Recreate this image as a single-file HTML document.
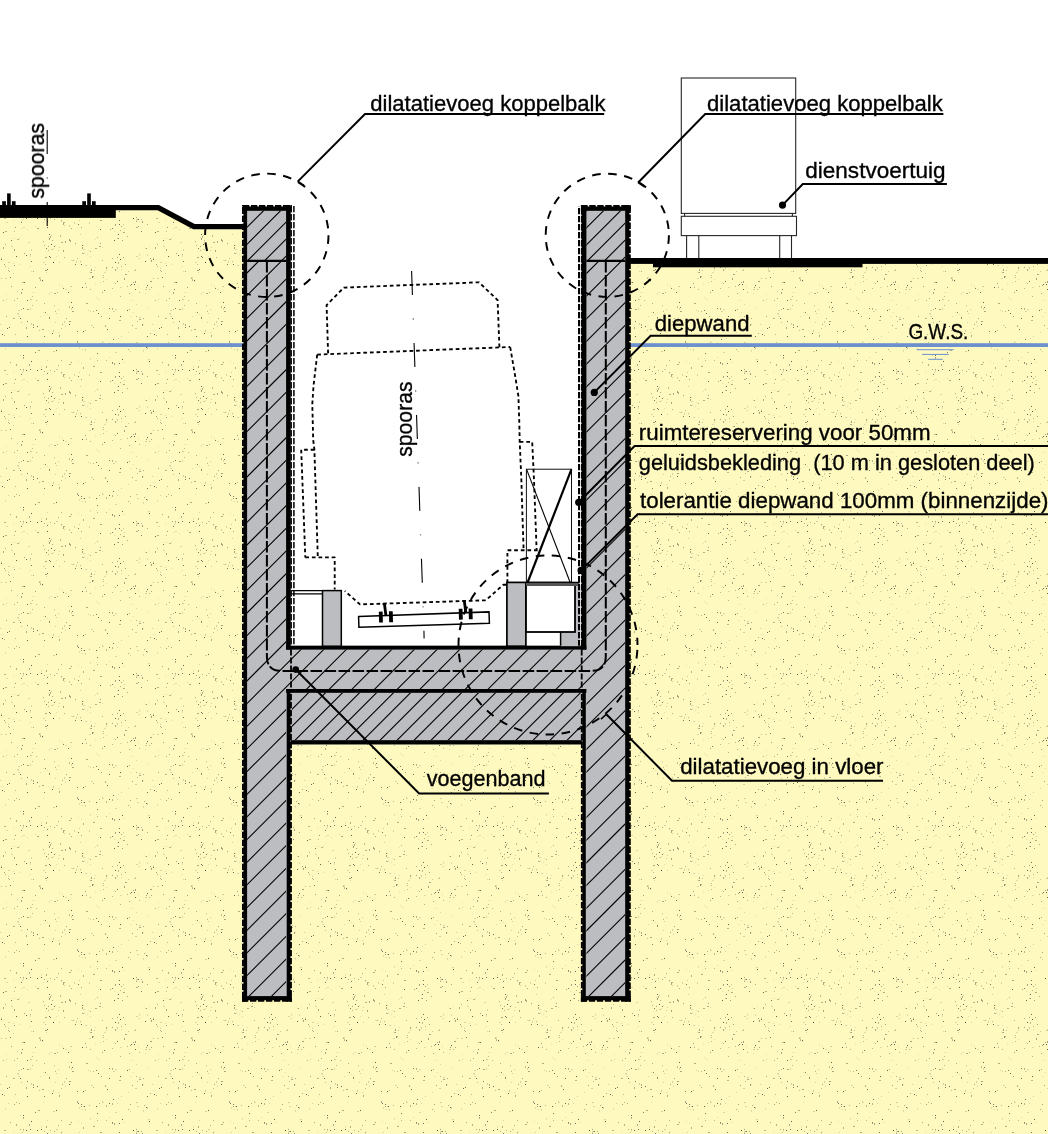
<!DOCTYPE html>
<html><head><meta charset="utf-8"><title>dwarsdoorsnede</title>
<style>
html,body{margin:0;padding:0;background:#fff;}
body{width:1048px;height:1134px;overflow:hidden;}
svg{display:block;}
text{font-family:"Liberation Sans", sans-serif;font-size:22.4px;fill:#000;stroke:#000;stroke-width:0.35px;}
</style></head><body>
<svg width="1048" height="1134" viewBox="0 0 1048 1134">
<defs>
<pattern id="sand" width="152" height="152" patternUnits="userSpaceOnUse">
<rect width="152" height="152" fill="#fef9bf"/>
<rect x="97" y="85" width="1" height="1" fill="#33332a" fill-opacity="0.32"/><rect x="95" y="87" width="1" height="1" fill="#33332a" fill-opacity="0.12"/><rect x="147" y="72" width="1" height="1" fill="#33332a" fill-opacity="0.37"/><rect x="98" y="147" width="1" height="1" fill="#33332a" fill-opacity="0.19"/><rect x="96" y="145" width="1" height="1" fill="#33332a" fill-opacity="0.15"/><rect x="112" y="39" width="1" height="2" fill="#33332a" fill-opacity="0.33"/><rect x="81" y="42" width="1" height="1" fill="#33332a" fill-opacity="0.44"/><rect x="85" y="45" width="1" height="2" fill="#33332a" fill-opacity="0.19"/><rect x="15" y="30" width="1" height="1" fill="#33332a" fill-opacity="0.33"/><rect x="8" y="110" width="2" height="1" fill="#33332a" fill-opacity="0.19"/><rect x="55" y="18" width="1" height="1" fill="#33332a" fill-opacity="0.20"/><rect x="121" y="32" width="1" height="1" fill="#33332a" fill-opacity="0.20"/><rect x="4" y="31" width="1" height="1" fill="#33332a" fill-opacity="0.38"/><rect x="2" y="30" width="1" height="1" fill="#33332a" fill-opacity="0.77"/><rect x="13" y="68" width="1" height="1" fill="#33332a" fill-opacity="0.13"/><rect x="6" y="147" width="1" height="1" fill="#33332a" fill-opacity="0.18"/><rect x="3" y="148" width="1" height="1" fill="#33332a" fill-opacity="0.36"/><rect x="102" y="37" width="1" height="2" fill="#33332a" fill-opacity="0.13"/><rect x="99" y="39" width="1" height="1" fill="#33332a" fill-opacity="0.34"/><rect x="5" y="126" width="2" height="1" fill="#33332a" fill-opacity="0.17"/><rect x="58" y="5" width="1" height="1" fill="#33332a" fill-opacity="0.19"/><rect x="55" y="7" width="1" height="1" fill="#33332a" fill-opacity="0.35"/><rect x="102" y="108" width="1" height="1" fill="#33332a" fill-opacity="0.37"/><rect x="71" y="138" width="1" height="1" fill="#33332a" fill-opacity="0.13"/><rect x="68" y="140" width="1" height="1" fill="#33332a" fill-opacity="0.70"/><rect x="82" y="45" width="1" height="1" fill="#33332a" fill-opacity="0.20"/><rect x="79" y="43" width="1" height="2" fill="#33332a" fill-opacity="0.14"/><rect x="27" y="32" width="1" height="1" fill="#33332a" fill-opacity="0.76"/><rect x="105" y="21" width="1" height="2" fill="#33332a" fill-opacity="0.34"/><rect x="107" y="25" width="1" height="1" fill="#33332a" fill-opacity="0.73"/><rect x="61" y="56" width="1" height="1" fill="#33332a" fill-opacity="0.34"/><rect x="117" y="105" width="1" height="1" fill="#33332a" fill-opacity="0.44"/><rect x="21" y="70" width="1" height="1" fill="#33332a" fill-opacity="0.64"/><rect x="63" y="70" width="2" height="1" fill="#33332a" fill-opacity="0.39"/><rect x="83" y="97" width="2" height="1" fill="#33332a" fill-opacity="0.16"/><rect x="75" y="112" width="1" height="1" fill="#33332a" fill-opacity="0.66"/><rect x="54" y="141" width="2" height="1" fill="#33332a" fill-opacity="0.40"/><rect x="51" y="140" width="1" height="1" fill="#33332a" fill-opacity="0.18"/><rect x="46" y="120" width="1" height="1" fill="#33332a" fill-opacity="0.17"/><rect x="16" y="60" width="1" height="2" fill="#33332a" fill-opacity="0.35"/><rect x="39" y="126" width="1" height="1" fill="#33332a" fill-opacity="0.38"/><rect x="58" y="98" width="1" height="1" fill="#33332a" fill-opacity="0.21"/><rect x="30" y="114" width="1" height="1" fill="#33332a" fill-opacity="0.14"/><rect x="49" y="141" width="1" height="2" fill="#33332a" fill-opacity="0.12"/><rect x="100" y="91" width="1" height="1" fill="#33332a" fill-opacity="0.41"/><rect x="90" y="7" width="1" height="1" fill="#33332a" fill-opacity="0.19"/><rect x="88" y="6" width="1" height="1" fill="#33332a" fill-opacity="0.17"/><rect x="131" y="132" width="1" height="1" fill="#33332a" fill-opacity="0.71"/><rect x="45" y="105" width="2" height="1" fill="#33332a" fill-opacity="0.38"/><rect x="18" y="10" width="1" height="1" fill="#33332a" fill-opacity="0.15"/><rect x="90" y="54" width="1" height="2" fill="#33332a" fill-opacity="0.15"/><rect x="78" y="72" width="1" height="1" fill="#33332a" fill-opacity="0.61"/><rect x="81" y="75" width="1" height="1" fill="#33332a" fill-opacity="0.40"/><rect x="59" y="31" width="1" height="2" fill="#33332a" fill-opacity="0.36"/><rect x="71" y="150" width="1" height="1" fill="#33332a" fill-opacity="0.79"/><rect x="103" y="125" width="1" height="1" fill="#33332a" fill-opacity="0.30"/><rect x="61" y="24" width="1" height="1" fill="#33332a" fill-opacity="0.31"/><rect x="112" y="59" width="1" height="1" fill="#33332a" fill-opacity="0.40"/><rect x="121" y="74" width="1" height="1" fill="#33332a" fill-opacity="0.40"/><rect x="124" y="76" width="1" height="1" fill="#33332a" fill-opacity="0.21"/><rect x="145" y="96" width="2" height="1" fill="#33332a" fill-opacity="0.15"/><rect x="149" y="94" width="1" height="1" fill="#33332a" fill-opacity="0.12"/><rect x="50" y="105" width="1" height="1" fill="#33332a" fill-opacity="0.66"/><rect x="82" y="93" width="1" height="1" fill="#33332a" fill-opacity="0.68"/><rect x="109" y="4" width="1" height="1" fill="#33332a" fill-opacity="0.63"/><rect x="113" y="7" width="2" height="1" fill="#33332a" fill-opacity="0.18"/><rect x="102" y="38" width="2" height="1" fill="#33332a" fill-opacity="0.14"/><rect x="106" y="41" width="1" height="2" fill="#33332a" fill-opacity="0.32"/><rect x="96" y="6" width="1" height="1" fill="#33332a" fill-opacity="0.65"/><rect x="98" y="9" width="1" height="1" fill="#33332a" fill-opacity="0.72"/><rect x="6" y="142" width="1" height="1" fill="#33332a" fill-opacity="0.14"/><rect x="63" y="98" width="1" height="2" fill="#33332a" fill-opacity="0.44"/><rect x="11" y="134" width="1" height="1" fill="#33332a" fill-opacity="0.43"/><rect x="130" y="47" width="1" height="1" fill="#33332a" fill-opacity="0.20"/><rect x="145" y="137" width="2" height="1" fill="#33332a" fill-opacity="0.20"/><rect x="48" y="94" width="1" height="1" fill="#33332a" fill-opacity="0.44"/><rect x="51" y="92" width="1" height="1" fill="#33332a" fill-opacity="0.78"/><rect x="112" y="4" width="1" height="2" fill="#33332a" fill-opacity="0.36"/><rect x="27" y="77" width="1" height="1" fill="#33332a" fill-opacity="0.15"/><rect x="17" y="139" width="1" height="1" fill="#33332a" fill-opacity="0.17"/><rect x="81" y="112" width="1" height="1" fill="#33332a" fill-opacity="0.73"/><rect x="95" y="131" width="1" height="1" fill="#33332a" fill-opacity="0.14"/><rect x="21" y="18" width="1" height="1" fill="#33332a" fill-opacity="0.31"/><rect x="89" y="41" width="1" height="1" fill="#33332a" fill-opacity="0.33"/><rect x="44" y="67" width="1" height="1" fill="#33332a" fill-opacity="0.40"/><rect x="41" y="65" width="1" height="1" fill="#33332a" fill-opacity="0.77"/><rect x="3" y="80" width="1" height="1" fill="#33332a" fill-opacity="0.74"/><rect x="80" y="82" width="1" height="1" fill="#33332a" fill-opacity="0.20"/><rect x="49" y="13" width="1" height="1" fill="#33332a" fill-opacity="0.64"/><rect x="30" y="4" width="1" height="2" fill="#33332a" fill-opacity="0.18"/><rect x="70" y="134" width="2" height="1" fill="#33332a" fill-opacity="0.21"/><rect x="70" y="88" width="1" height="2" fill="#33332a" fill-opacity="0.39"/><rect x="120" y="135" width="2" height="1" fill="#33332a" fill-opacity="0.14"/><rect x="103" y="123" width="1" height="1" fill="#33332a" fill-opacity="0.30"/><rect x="136" y="69" width="1" height="1" fill="#33332a" fill-opacity="0.44"/><rect x="41" y="62" width="1" height="2" fill="#33332a" fill-opacity="0.13"/><rect x="6" y="70" width="2" height="1" fill="#33332a" fill-opacity="0.15"/><rect x="49" y="82" width="1" height="1" fill="#33332a" fill-opacity="0.74"/><rect x="51" y="83" width="1" height="1" fill="#33332a" fill-opacity="0.20"/><rect x="69" y="73" width="1" height="2" fill="#33332a" fill-opacity="0.20"/><rect x="71" y="76" width="1" height="1" fill="#33332a" fill-opacity="0.40"/><rect x="78" y="39" width="1" height="1" fill="#33332a" fill-opacity="0.67"/><rect x="139" y="140" width="1" height="1" fill="#33332a" fill-opacity="0.31"/><rect x="3" y="95" width="1" height="2" fill="#33332a" fill-opacity="0.39"/><rect x="59" y="95" width="1" height="1" fill="#33332a" fill-opacity="0.20"/><rect x="106" y="115" width="1" height="2" fill="#33332a" fill-opacity="0.40"/><rect x="56" y="9" width="1" height="1" fill="#33332a" fill-opacity="0.22"/><rect x="15" y="75" width="1" height="1" fill="#33332a" fill-opacity="0.44"/><rect x="5" y="44" width="1" height="2" fill="#33332a" fill-opacity="0.12"/><rect x="22" y="130" width="2" height="1" fill="#33332a" fill-opacity="0.31"/><rect x="120" y="12" width="1" height="1" fill="#33332a" fill-opacity="0.33"/><rect x="30" y="103" width="1" height="2" fill="#33332a" fill-opacity="0.13"/><rect x="21" y="140" width="1" height="2" fill="#33332a" fill-opacity="0.41"/><rect x="23" y="4" width="1" height="1" fill="#33332a" fill-opacity="0.71"/><rect x="27" y="5" width="2" height="1" fill="#33332a" fill-opacity="0.39"/><rect x="115" y="110" width="1" height="1" fill="#33332a" fill-opacity="0.79"/><rect x="8" y="39" width="1" height="1" fill="#33332a" fill-opacity="0.20"/><rect x="22" y="137" width="1" height="1" fill="#33332a" fill-opacity="0.62"/><rect x="90" y="120" width="2" height="1" fill="#33332a" fill-opacity="0.38"/><rect x="94" y="118" width="1" height="1" fill="#33332a" fill-opacity="0.30"/><rect x="133" y="130" width="1" height="1" fill="#33332a" fill-opacity="0.42"/><rect x="135" y="129" width="1" height="2" fill="#33332a" fill-opacity="0.45"/><rect x="47" y="69" width="1" height="1" fill="#33332a" fill-opacity="0.66"/><rect x="124" y="126" width="1" height="2" fill="#33332a" fill-opacity="0.44"/><rect x="62" y="134" width="1" height="1" fill="#33332a" fill-opacity="0.15"/><rect x="59" y="132" width="1" height="1" fill="#33332a" fill-opacity="0.17"/><rect x="22" y="68" width="1" height="1" fill="#33332a" fill-opacity="0.17"/><rect x="83" y="63" width="1" height="2" fill="#33332a" fill-opacity="0.35"/><rect x="44" y="32" width="1" height="1" fill="#33332a" fill-opacity="0.62"/><rect x="37" y="43" width="1" height="1" fill="#33332a" fill-opacity="0.13"/><rect x="1" y="126" width="1" height="1" fill="#33332a" fill-opacity="0.32"/><rect x="150" y="129" width="2" height="1" fill="#33332a" fill-opacity="0.45"/><rect x="28" y="90" width="2" height="1" fill="#33332a" fill-opacity="0.16"/><rect x="23" y="51" width="1" height="1" fill="#33332a" fill-opacity="0.70"/><rect x="93" y="62" width="2" height="1" fill="#33332a" fill-opacity="0.37"/><rect x="37" y="76" width="2" height="1" fill="#33332a" fill-opacity="0.44"/><rect x="35" y="74" width="1" height="1" fill="#33332a" fill-opacity="0.22"/><rect x="47" y="117" width="1" height="1" fill="#33332a" fill-opacity="0.71"/><rect x="45" y="118" width="2" height="1" fill="#33332a" fill-opacity="0.45"/><rect x="122" y="55" width="1" height="1" fill="#33332a" fill-opacity="0.75"/><rect x="124" y="58" width="1" height="1" fill="#33332a" fill-opacity="0.16"/><rect x="106" y="127" width="1" height="1" fill="#33332a" fill-opacity="0.15"/><rect x="122" y="88" width="1" height="1" fill="#33332a" fill-opacity="0.42"/><rect x="77" y="37" width="1" height="2" fill="#33332a" fill-opacity="0.42"/><rect x="5" y="114" width="1" height="1" fill="#33332a" fill-opacity="0.34"/><rect x="8" y="116" width="1" height="1" fill="#33332a" fill-opacity="0.22"/><rect x="117" y="39" width="1" height="1" fill="#33332a" fill-opacity="0.20"/><rect x="81" y="59" width="1" height="1" fill="#33332a" fill-opacity="0.14"/><rect x="78" y="57" width="1" height="1" fill="#33332a" fill-opacity="0.14"/><rect x="138" y="74" width="1" height="1" fill="#33332a" fill-opacity="0.43"/><rect x="136" y="75" width="2" height="1" fill="#33332a" fill-opacity="0.36"/><rect x="54" y="1" width="1" height="2" fill="#33332a" fill-opacity="0.14"/><rect x="134" y="118" width="2" height="1" fill="#33332a" fill-opacity="0.17"/><rect x="151" y="108" width="1" height="2" fill="#33332a" fill-opacity="0.45"/><rect x="128" y="119" width="1" height="1" fill="#33332a" fill-opacity="0.21"/><rect x="125" y="122" width="2" height="1" fill="#33332a" fill-opacity="0.40"/><rect x="109" y="39" width="1" height="1" fill="#33332a" fill-opacity="0.74"/><rect x="33" y="140" width="1" height="1" fill="#33332a" fill-opacity="0.21"/><rect x="4" y="112" width="1" height="1" fill="#33332a" fill-opacity="0.44"/><rect x="49" y="104" width="1" height="1" fill="#33332a" fill-opacity="0.75"/><rect x="87" y="102" width="1" height="1" fill="#33332a" fill-opacity="0.13"/><rect x="90" y="104" width="1" height="1" fill="#33332a" fill-opacity="0.16"/><rect x="74" y="70" width="1" height="2" fill="#33332a" fill-opacity="0.20"/><rect x="110" y="77" width="1" height="1" fill="#33332a" fill-opacity="0.41"/><rect x="112" y="76" width="1" height="1" fill="#33332a" fill-opacity="0.61"/><rect x="43" y="8" width="1" height="1" fill="#33332a" fill-opacity="0.13"/><rect x="147" y="102" width="1" height="2" fill="#33332a" fill-opacity="0.12"/><rect x="120" y="12" width="1" height="1" fill="#33332a" fill-opacity="0.66"/><rect x="120" y="107" width="1" height="1" fill="#33332a" fill-opacity="0.79"/><rect x="118" y="110" width="1" height="2" fill="#33332a" fill-opacity="0.31"/><rect x="113" y="35" width="1" height="1" fill="#33332a" fill-opacity="0.66"/><rect x="29" y="60" width="1" height="2" fill="#33332a" fill-opacity="0.37"/><rect x="129" y="5" width="1" height="1" fill="#33332a" fill-opacity="0.42"/><rect x="127" y="6" width="1" height="1" fill="#33332a" fill-opacity="0.74"/><rect x="13" y="14" width="2" height="1" fill="#33332a" fill-opacity="0.35"/><rect x="133" y="8" width="1" height="1" fill="#33332a" fill-opacity="0.14"/><rect x="118" y="86" width="1" height="1" fill="#33332a" fill-opacity="0.17"/><rect x="82" y="95" width="1" height="2" fill="#33332a" fill-opacity="0.42"/><rect x="17" y="146" width="1" height="1" fill="#33332a" fill-opacity="0.43"/><rect x="14" y="148" width="1" height="1" fill="#33332a" fill-opacity="0.39"/><rect x="139" y="102" width="1" height="2" fill="#33332a" fill-opacity="0.14"/><rect x="136" y="104" width="2" height="1" fill="#33332a" fill-opacity="0.17"/><rect x="32" y="1" width="1" height="1" fill="#33332a" fill-opacity="0.35"/><rect x="130" y="40" width="1" height="1" fill="#33332a" fill-opacity="0.42"/><rect x="101" y="12" width="1" height="1" fill="#33332a" fill-opacity="0.43"/><rect x="26" y="23" width="1" height="2" fill="#33332a" fill-opacity="0.37"/><rect x="33" y="119" width="1" height="1" fill="#33332a" fill-opacity="0.39"/><rect x="53" y="47" width="2" height="1" fill="#33332a" fill-opacity="0.22"/><rect x="56" y="46" width="1" height="1" fill="#33332a" fill-opacity="0.74"/><rect x="40" y="12" width="1" height="1" fill="#33332a" fill-opacity="0.17"/><rect x="45" y="8" width="1" height="1" fill="#33332a" fill-opacity="0.64"/><rect x="30" y="102" width="1" height="1" fill="#33332a" fill-opacity="0.40"/><rect x="141" y="67" width="1" height="1" fill="#33332a" fill-opacity="0.38"/><rect x="66" y="14" width="1" height="1" fill="#33332a" fill-opacity="0.39"/><rect x="89" y="70" width="1" height="2" fill="#33332a" fill-opacity="0.18"/><rect x="31" y="119" width="1" height="1" fill="#33332a" fill-opacity="0.16"/><rect x="114" y="88" width="1" height="1" fill="#33332a" fill-opacity="0.74"/><rect x="117" y="86" width="2" height="1" fill="#33332a" fill-opacity="0.32"/><rect x="17" y="9" width="2" height="1" fill="#33332a" fill-opacity="0.19"/><rect x="130" y="133" width="1" height="1" fill="#33332a" fill-opacity="0.43"/><rect x="50" y="66" width="1" height="1" fill="#33332a" fill-opacity="0.31"/><rect x="138" y="67" width="1" height="1" fill="#33332a" fill-opacity="0.39"/><rect x="142" y="69" width="1" height="2" fill="#33332a" fill-opacity="0.45"/><rect x="37" y="66" width="1" height="1" fill="#33332a" fill-opacity="0.76"/><rect x="47" y="56" width="1" height="1" fill="#33332a" fill-opacity="0.17"/><rect x="42" y="129" width="1" height="1" fill="#33332a" fill-opacity="0.13"/><rect x="40" y="127" width="1" height="2" fill="#33332a" fill-opacity="0.34"/><rect x="16" y="38" width="1" height="1" fill="#33332a" fill-opacity="0.32"/><rect x="14" y="40" width="1" height="1" fill="#33332a" fill-opacity="0.42"/><rect x="26" y="66" width="1" height="1" fill="#33332a" fill-opacity="0.77"/><rect x="30" y="65" width="1" height="1" fill="#33332a" fill-opacity="0.69"/><rect x="8" y="118" width="1" height="1" fill="#33332a" fill-opacity="0.37"/><rect x="85" y="113" width="2" height="1" fill="#33332a" fill-opacity="0.16"/><rect x="77" y="106" width="1" height="1" fill="#33332a" fill-opacity="0.31"/><rect x="80" y="109" width="1" height="1" fill="#33332a" fill-opacity="0.34"/><rect x="57" y="140" width="1" height="1" fill="#33332a" fill-opacity="0.31"/><rect x="69" y="2" width="1" height="2" fill="#33332a" fill-opacity="0.30"/><rect x="148" y="3" width="1" height="1" fill="#33332a" fill-opacity="0.18"/><rect x="4" y="66" width="2" height="1" fill="#33332a" fill-opacity="0.33"/><rect x="85" y="131" width="1" height="1" fill="#33332a" fill-opacity="0.43"/><rect x="48" y="85" width="1" height="1" fill="#33332a" fill-opacity="0.15"/><rect x="50" y="84" width="1" height="2" fill="#33332a" fill-opacity="0.37"/><rect x="49" y="14" width="1" height="1" fill="#33332a" fill-opacity="0.40"/><rect x="32" y="144" width="1" height="1" fill="#33332a" fill-opacity="0.32"/><rect x="100" y="68" width="2" height="1" fill="#33332a" fill-opacity="0.40"/><rect x="55" y="93" width="1" height="1" fill="#33332a" fill-opacity="0.14"/><rect x="147" y="43" width="1" height="2" fill="#33332a" fill-opacity="0.21"/><rect x="132" y="21" width="1" height="1" fill="#33332a" fill-opacity="0.43"/><rect x="135" y="24" width="2" height="1" fill="#33332a" fill-opacity="0.21"/><rect x="71" y="4" width="1" height="2" fill="#33332a" fill-opacity="0.18"/><rect x="11" y="94" width="2" height="1" fill="#33332a" fill-opacity="0.19"/><rect x="112" y="106" width="1" height="1" fill="#33332a" fill-opacity="0.34"/><rect x="143" y="20" width="1" height="1" fill="#33332a" fill-opacity="0.16"/><rect x="102" y="140" width="1" height="1" fill="#33332a" fill-opacity="0.44"/><rect x="104" y="138" width="1" height="1" fill="#33332a" fill-opacity="0.63"/><rect x="33" y="20" width="1" height="2" fill="#33332a" fill-opacity="0.34"/><rect x="31" y="19" width="1" height="2" fill="#33332a" fill-opacity="0.22"/><rect x="53" y="110" width="1" height="1" fill="#33332a" fill-opacity="0.71"/><rect x="121" y="114" width="1" height="1" fill="#33332a" fill-opacity="0.32"/><rect x="125" y="112" width="1" height="1" fill="#33332a" fill-opacity="0.43"/><rect x="71" y="58" width="1" height="1" fill="#33332a" fill-opacity="0.44"/><rect x="69" y="60" width="2" height="1" fill="#33332a" fill-opacity="0.38"/><rect x="89" y="126" width="2" height="1" fill="#33332a" fill-opacity="0.18"/><rect x="92" y="125" width="1" height="1" fill="#33332a" fill-opacity="0.61"/><rect x="136" y="38" width="2" height="1" fill="#33332a" fill-opacity="0.20"/><rect x="148" y="55" width="2" height="1" fill="#33332a" fill-opacity="0.17"/><rect x="64" y="17" width="1" height="2" fill="#33332a" fill-opacity="0.20"/><rect x="93" y="7" width="1" height="1" fill="#33332a" fill-opacity="0.31"/><rect x="54" y="94" width="1" height="1" fill="#33332a" fill-opacity="0.63"/><rect x="0" y="20" width="1" height="1" fill="#33332a" fill-opacity="0.21"/><rect x="150" y="106" width="1" height="1" fill="#33332a" fill-opacity="0.38"/><rect x="1" y="107" width="1" height="1" fill="#33332a" fill-opacity="0.79"/><rect x="149" y="57" width="1" height="1" fill="#33332a" fill-opacity="0.79"/><rect x="143" y="46" width="1" height="1" fill="#33332a" fill-opacity="0.20"/><rect x="120" y="144" width="1" height="1" fill="#33332a" fill-opacity="0.34"/><rect x="97" y="49" width="1" height="1" fill="#33332a" fill-opacity="0.63"/><rect x="76" y="109" width="1" height="2" fill="#33332a" fill-opacity="0.20"/><rect x="73" y="108" width="1" height="1" fill="#33332a" fill-opacity="0.39"/><rect x="53" y="110" width="1" height="1" fill="#33332a" fill-opacity="0.72"/><rect x="24" y="130" width="1" height="1" fill="#33332a" fill-opacity="0.72"/><rect x="112" y="58" width="1" height="1" fill="#33332a" fill-opacity="0.63"/><rect x="14" y="97" width="1" height="2" fill="#33332a" fill-opacity="0.41"/><rect x="131" y="148" width="1" height="1" fill="#33332a" fill-opacity="0.19"/><rect x="19" y="39" width="1" height="1" fill="#33332a" fill-opacity="0.36"/><rect x="44" y="151" width="1" height="1" fill="#33332a" fill-opacity="0.36"/><rect x="33" y="23" width="1" height="1" fill="#33332a" fill-opacity="0.63"/><rect x="60" y="83" width="1" height="2" fill="#33332a" fill-opacity="0.32"/><rect x="135" y="137" width="1" height="1" fill="#33332a" fill-opacity="0.76"/><rect x="61" y="90" width="2" height="1" fill="#33332a" fill-opacity="0.34"/><rect x="65" y="89" width="1" height="2" fill="#33332a" fill-opacity="0.41"/><rect x="115" y="5" width="2" height="1" fill="#33332a" fill-opacity="0.18"/><rect x="137" y="67" width="2" height="1" fill="#33332a" fill-opacity="0.42"/><rect x="139" y="69" width="1" height="1" fill="#33332a" fill-opacity="0.20"/><rect x="5" y="79" width="2" height="1" fill="#33332a" fill-opacity="0.36"/><rect x="59" y="110" width="1" height="1" fill="#33332a" fill-opacity="0.22"/><rect x="72" y="3" width="1" height="1" fill="#33332a" fill-opacity="0.70"/><rect x="20" y="51" width="1" height="1" fill="#33332a" fill-opacity="0.20"/><rect x="23" y="53" width="1" height="2" fill="#33332a" fill-opacity="0.40"/><rect x="45" y="112" width="1" height="1" fill="#33332a" fill-opacity="0.32"/><rect x="43" y="110" width="2" height="1" fill="#33332a" fill-opacity="0.14"/><rect x="95" y="96" width="2" height="1" fill="#33332a" fill-opacity="0.35"/><rect x="121" y="117" width="1" height="1" fill="#33332a" fill-opacity="0.16"/><rect x="36" y="148" width="1" height="1" fill="#33332a" fill-opacity="0.35"/><rect x="7" y="24" width="1" height="1" fill="#33332a" fill-opacity="0.70"/><rect x="9" y="23" width="1" height="1" fill="#33332a" fill-opacity="0.67"/><rect x="39" y="125" width="2" height="1" fill="#33332a" fill-opacity="0.18"/><rect x="31" y="57" width="1" height="1" fill="#33332a" fill-opacity="0.79"/><rect x="146" y="96" width="1" height="1" fill="#33332a" fill-opacity="0.42"/><rect x="119" y="102" width="1" height="1" fill="#33332a" fill-opacity="0.70"/><rect x="123" y="105" width="1" height="1" fill="#33332a" fill-opacity="0.44"/><rect x="127" y="84" width="1" height="1" fill="#33332a" fill-opacity="0.42"/><rect x="42" y="128" width="1" height="1" fill="#33332a" fill-opacity="0.79"/><rect x="117" y="115" width="1" height="2" fill="#33332a" fill-opacity="0.21"/><rect x="19" y="112" width="1" height="1" fill="#33332a" fill-opacity="0.15"/><rect x="53" y="26" width="1" height="2" fill="#33332a" fill-opacity="0.21"/><rect x="109" y="53" width="1" height="1" fill="#33332a" fill-opacity="0.16"/><rect x="106" y="56" width="1" height="1" fill="#33332a" fill-opacity="0.33"/><rect x="104" y="120" width="2" height="1" fill="#33332a" fill-opacity="0.14"/><rect x="106" y="118" width="1" height="1" fill="#33332a" fill-opacity="0.19"/><rect x="46" y="62" width="1" height="2" fill="#33332a" fill-opacity="0.38"/><rect x="143" y="14" width="1" height="1" fill="#33332a" fill-opacity="0.38"/><rect x="85" y="26" width="1" height="1" fill="#33332a" fill-opacity="0.36"/><rect x="83" y="27" width="1" height="1" fill="#33332a" fill-opacity="0.79"/><rect x="141" y="79" width="1" height="1" fill="#33332a" fill-opacity="0.62"/><rect x="46" y="96" width="1" height="1" fill="#33332a" fill-opacity="0.68"/><rect x="48" y="98" width="1" height="1" fill="#33332a" fill-opacity="0.35"/><rect x="123" y="72" width="1" height="1" fill="#33332a" fill-opacity="0.21"/><rect x="64" y="73" width="1" height="1" fill="#33332a" fill-opacity="0.19"/><rect x="53" y="96" width="1" height="1" fill="#33332a" fill-opacity="0.14"/><rect x="90" y="113" width="1" height="1" fill="#33332a" fill-opacity="0.13"/><rect x="69" y="20" width="1" height="1" fill="#33332a" fill-opacity="0.79"/><rect x="119" y="16" width="2" height="1" fill="#33332a" fill-opacity="0.32"/><rect x="65" y="22" width="1" height="1" fill="#33332a" fill-opacity="0.16"/><rect x="62" y="20" width="1" height="1" fill="#33332a" fill-opacity="0.41"/><rect x="139" y="13" width="2" height="1" fill="#33332a" fill-opacity="0.21"/><rect x="136" y="12" width="1" height="1" fill="#33332a" fill-opacity="0.41"/><rect x="131" y="12" width="1" height="1" fill="#33332a" fill-opacity="0.15"/><rect x="136" y="67" width="1" height="2" fill="#33332a" fill-opacity="0.14"/><rect x="31" y="97" width="1" height="2" fill="#33332a" fill-opacity="0.17"/><rect x="52" y="29" width="1" height="1" fill="#33332a" fill-opacity="0.73"/><rect x="128" y="28" width="1" height="1" fill="#33332a" fill-opacity="0.15"/><rect x="86" y="151" width="2" height="1" fill="#33332a" fill-opacity="0.39"/><rect x="119" y="72" width="1" height="1" fill="#33332a" fill-opacity="0.78"/><rect x="47" y="75" width="1" height="1" fill="#33332a" fill-opacity="0.79"/><rect x="109" y="14" width="1" height="1" fill="#33332a" fill-opacity="0.69"/><rect x="13" y="121" width="1" height="1" fill="#33332a" fill-opacity="0.16"/><rect x="83" y="93" width="1" height="1" fill="#33332a" fill-opacity="0.17"/><rect x="26" y="103" width="1" height="1" fill="#33332a" fill-opacity="0.78"/><rect x="24" y="101" width="1" height="1" fill="#33332a" fill-opacity="0.44"/><rect x="14" y="113" width="1" height="1" fill="#33332a" fill-opacity="0.42"/><rect x="143" y="47" width="1" height="1" fill="#33332a" fill-opacity="0.14"/><rect x="11" y="88" width="1" height="1" fill="#33332a" fill-opacity="0.68"/><rect x="14" y="86" width="1" height="1" fill="#33332a" fill-opacity="0.19"/><rect x="33" y="20" width="1" height="1" fill="#33332a" fill-opacity="0.14"/><rect x="136" y="65" width="1" height="1" fill="#33332a" fill-opacity="0.42"/><rect x="133" y="66" width="1" height="1" fill="#33332a" fill-opacity="0.77"/><rect x="82" y="135" width="1" height="1" fill="#33332a" fill-opacity="0.78"/><rect x="47" y="10" width="1" height="1" fill="#33332a" fill-opacity="0.13"/><rect x="128" y="45" width="1" height="1" fill="#33332a" fill-opacity="0.36"/><rect x="142" y="20" width="1" height="2" fill="#33332a" fill-opacity="0.44"/><rect x="19" y="86" width="1" height="1" fill="#33332a" fill-opacity="0.18"/><rect x="17" y="87" width="2" height="1" fill="#33332a" fill-opacity="0.33"/><rect x="58" y="28" width="1" height="1" fill="#33332a" fill-opacity="0.21"/><rect x="138" y="134" width="1" height="1" fill="#33332a" fill-opacity="0.15"/><rect x="84" y="42" width="1" height="1" fill="#33332a" fill-opacity="0.78"/><rect x="81" y="40" width="1" height="1" fill="#33332a" fill-opacity="0.64"/><rect x="37" y="22" width="1" height="1" fill="#33332a" fill-opacity="0.77"/><rect x="135" y="117" width="1" height="2" fill="#33332a" fill-opacity="0.16"/><rect x="97" y="56" width="1" height="1" fill="#33332a" fill-opacity="0.33"/><rect x="139" y="106" width="1" height="1" fill="#33332a" fill-opacity="0.19"/><rect x="10" y="58" width="1" height="1" fill="#33332a" fill-opacity="0.39"/><rect x="139" y="15" width="2" height="1" fill="#33332a" fill-opacity="0.39"/><rect x="137" y="17" width="1" height="1" fill="#33332a" fill-opacity="0.34"/><rect x="115" y="117" width="1" height="2" fill="#33332a" fill-opacity="0.38"/><rect x="65" y="137" width="2" height="1" fill="#33332a" fill-opacity="0.13"/><rect x="63" y="136" width="1" height="1" fill="#33332a" fill-opacity="0.62"/><rect x="119" y="68" width="1" height="1" fill="#33332a" fill-opacity="0.66"/><rect x="56" y="104" width="1" height="1" fill="#33332a" fill-opacity="0.17"/><rect x="145" y="141" width="1" height="1" fill="#33332a" fill-opacity="0.14"/><rect x="31" y="109" width="1" height="1" fill="#33332a" fill-opacity="0.66"/><rect x="23" y="65" width="1" height="1" fill="#33332a" fill-opacity="0.44"/><rect x="69" y="87" width="1" height="2" fill="#33332a" fill-opacity="0.45"/><rect x="147" y="133" width="1" height="1" fill="#33332a" fill-opacity="0.78"/><rect x="151" y="135" width="1" height="1" fill="#33332a" fill-opacity="0.39"/><rect x="77" y="27" width="1" height="1" fill="#33332a" fill-opacity="0.61"/><rect x="9" y="119" width="1" height="1" fill="#33332a" fill-opacity="0.38"/><rect x="84" y="100" width="1" height="1" fill="#33332a" fill-opacity="0.14"/><rect x="82" y="101" width="2" height="1" fill="#33332a" fill-opacity="0.37"/><rect x="75" y="91" width="1" height="1" fill="#33332a" fill-opacity="0.43"/><rect x="61" y="69" width="1" height="1" fill="#33332a" fill-opacity="0.13"/><rect x="63" y="71" width="1" height="2" fill="#33332a" fill-opacity="0.41"/><rect x="21" y="76" width="1" height="1" fill="#33332a" fill-opacity="0.12"/><rect x="23" y="75" width="2" height="1" fill="#33332a" fill-opacity="0.19"/><rect x="145" y="109" width="1" height="1" fill="#33332a" fill-opacity="0.77"/><rect x="137" y="42" width="2" height="1" fill="#33332a" fill-opacity="0.17"/><rect x="71" y="108" width="2" height="1" fill="#33332a" fill-opacity="0.14"/><rect x="38" y="46" width="2" height="1" fill="#33332a" fill-opacity="0.38"/><rect x="35" y="48" width="1" height="1" fill="#33332a" fill-opacity="0.62"/><rect x="39" y="26" width="1" height="1" fill="#33332a" fill-opacity="0.32"/><rect x="42" y="25" width="2" height="1" fill="#33332a" fill-opacity="0.39"/><rect x="18" y="6" width="2" height="1" fill="#33332a" fill-opacity="0.20"/><rect x="21" y="5" width="1" height="1" fill="#33332a" fill-opacity="0.35"/><rect x="115" y="48" width="2" height="1" fill="#33332a" fill-opacity="0.17"/><rect x="54" y="67" width="1" height="1" fill="#33332a" fill-opacity="0.42"/><rect x="56" y="65" width="2" height="1" fill="#33332a" fill-opacity="0.21"/><rect x="83" y="42" width="1" height="1" fill="#33332a" fill-opacity="0.22"/><rect x="136" y="0" width="1" height="1" fill="#33332a" fill-opacity="0.17"/><rect x="96" y="42" width="1" height="1" fill="#33332a" fill-opacity="0.75"/><rect x="79" y="68" width="1" height="1" fill="#33332a" fill-opacity="0.21"/><rect x="20" y="14" width="1" height="1" fill="#33332a" fill-opacity="0.69"/><rect x="18" y="12" width="2" height="1" fill="#33332a" fill-opacity="0.14"/><rect x="13" y="111" width="1" height="1" fill="#33332a" fill-opacity="0.18"/><rect x="27" y="17" width="1" height="1" fill="#33332a" fill-opacity="0.61"/><rect x="119" y="59" width="1" height="1" fill="#33332a" fill-opacity="0.71"/><rect x="43" y="38" width="1" height="1" fill="#33332a" fill-opacity="0.12"/><rect x="23" y="66" width="1" height="2" fill="#33332a" fill-opacity="0.13"/><rect x="20" y="65" width="1" height="1" fill="#33332a" fill-opacity="0.41"/><rect x="43" y="89" width="1" height="1" fill="#33332a" fill-opacity="0.36"/><rect x="93" y="23" width="1" height="1" fill="#33332a" fill-opacity="0.35"/><rect x="91" y="21" width="2" height="1" fill="#33332a" fill-opacity="0.16"/><rect x="27" y="148" width="1" height="1" fill="#33332a" fill-opacity="0.70"/><rect x="30" y="147" width="2" height="1" fill="#33332a" fill-opacity="0.19"/><rect x="120" y="78" width="1" height="1" fill="#33332a" fill-opacity="0.36"/><rect x="123" y="80" width="2" height="1" fill="#33332a" fill-opacity="0.39"/><rect x="5" y="92" width="1" height="1" fill="#33332a" fill-opacity="0.34"/><rect x="129" y="141" width="1" height="1" fill="#33332a" fill-opacity="0.35"/><rect x="112" y="136" width="1" height="1" fill="#33332a" fill-opacity="0.32"/><rect x="16" y="104" width="1" height="1" fill="#33332a" fill-opacity="0.78"/><rect x="99" y="94" width="2" height="1" fill="#33332a" fill-opacity="0.39"/><rect x="102" y="95" width="1" height="1" fill="#33332a" fill-opacity="0.18"/><rect x="100" y="77" width="1" height="1" fill="#33332a" fill-opacity="0.72"/><rect x="144" y="41" width="1" height="1" fill="#33332a" fill-opacity="0.38"/><rect x="146" y="43" width="1" height="1" fill="#33332a" fill-opacity="0.71"/><rect x="150" y="29" width="1" height="1" fill="#33332a" fill-opacity="0.42"/><rect x="147" y="32" width="1" height="1" fill="#33332a" fill-opacity="0.71"/><rect x="64" y="105" width="1" height="1" fill="#33332a" fill-opacity="0.35"/><rect x="118" y="34" width="1" height="1" fill="#33332a" fill-opacity="0.16"/><rect x="14" y="79" width="1" height="1" fill="#33332a" fill-opacity="0.32"/><rect x="103" y="129" width="1" height="1" fill="#33332a" fill-opacity="0.33"/><rect x="100" y="130" width="1" height="1" fill="#33332a" fill-opacity="0.13"/><rect x="86" y="135" width="1" height="1" fill="#33332a" fill-opacity="0.40"/><rect x="90" y="137" width="1" height="1" fill="#33332a" fill-opacity="0.35"/><rect x="114" y="79" width="1" height="1" fill="#33332a" fill-opacity="0.15"/><rect x="118" y="82" width="1" height="1" fill="#33332a" fill-opacity="0.70"/><rect x="61" y="68" width="1" height="1" fill="#33332a" fill-opacity="0.43"/><rect x="52" y="88" width="1" height="1" fill="#33332a" fill-opacity="0.38"/><rect x="49" y="86" width="1" height="2" fill="#33332a" fill-opacity="0.45"/><rect x="134" y="132" width="1" height="1" fill="#33332a" fill-opacity="0.79"/><rect x="146" y="135" width="1" height="1" fill="#33332a" fill-opacity="0.41"/><rect x="149" y="137" width="1" height="1" fill="#33332a" fill-opacity="0.33"/><rect x="114" y="59" width="1" height="2" fill="#33332a" fill-opacity="0.41"/><rect x="35" y="135" width="1" height="1" fill="#33332a" fill-opacity="0.44"/><rect x="115" y="72" width="1" height="2" fill="#33332a" fill-opacity="0.42"/><rect x="6" y="12" width="1" height="1" fill="#33332a" fill-opacity="0.42"/><rect x="72" y="7" width="2" height="1" fill="#33332a" fill-opacity="0.41"/><rect x="51" y="97" width="2" height="1" fill="#33332a" fill-opacity="0.19"/><rect x="43" y="70" width="1" height="1" fill="#33332a" fill-opacity="0.16"/><rect x="92" y="124" width="2" height="1" fill="#33332a" fill-opacity="0.41"/><rect x="1" y="105" width="1" height="2" fill="#33332a" fill-opacity="0.15"/><rect x="58" y="61" width="1" height="1" fill="#33332a" fill-opacity="0.43"/><rect x="115" y="131" width="1" height="1" fill="#33332a" fill-opacity="0.35"/><rect x="117" y="129" width="1" height="1" fill="#33332a" fill-opacity="0.66"/><rect x="69" y="17" width="2" height="1" fill="#33332a" fill-opacity="0.42"/><rect x="10" y="125" width="1" height="1" fill="#33332a" fill-opacity="0.65"/><rect x="90" y="99" width="1" height="1" fill="#33332a" fill-opacity="0.37"/><rect x="88" y="98" width="1" height="1" fill="#33332a" fill-opacity="0.13"/><rect x="44" y="93" width="1" height="1" fill="#33332a" fill-opacity="0.36"/><rect x="112" y="115" width="1" height="1" fill="#33332a" fill-opacity="0.41"/><rect x="127" y="134" width="1" height="1" fill="#33332a" fill-opacity="0.37"/><rect x="91" y="117" width="1" height="2" fill="#33332a" fill-opacity="0.41"/><rect x="95" y="115" width="1" height="1" fill="#33332a" fill-opacity="0.15"/>
</pattern>
<clipPath id="cKL"><rect x="247.1" y="210.8" width="39.00000000000003" height="50.099999999999966"/></clipPath>
<clipPath id="cKR"><rect x="586.4" y="210.8" width="38.80000000000007" height="50.099999999999966"/></clipPath>
<clipPath id="cU"><path d="M247.1 260.9H286.1V649.6H586.4V260.9H625.2V996.1H586.4V689.0H286.1V996.1H247.1Z"/></clipPath>
<clipPath id="cS"><rect x="291.9" y="692.8" width="289.0" height="47.40000000000009"/></clipPath>
</defs>

<path d="M0 208H158L194 227H267V700H606V260H1048V1134H0Z" fill="url(#sand)"/>
<rect x="0" y="343.2" width="244" height="3.8" fill="#6d91cf"/>
<rect x="628" y="343.2" width="420" height="3.8" fill="#6d91cf"/>
<path d="M916.6 349.7H953.7M922.1 354.4H948.8M928.2 359.3H942.7" stroke="#6d91cf" stroke-width="1" fill="none"/>
<rect x="0" y="205" width="115.8" height="12.9" fill="#000"/>
<path d="M100 207.6H158.3L193.9 226.6H245" stroke="#000" stroke-width="5.3" fill="none" stroke-linejoin="miter"/>
<rect x="7.1000000000000005" y="193.4" width="3.6" height="12" fill="#000"/>
<rect x="2.2" y="201.2" width="3.7" height="4" fill="#000"/>
<rect x="11.9" y="201.2" width="3.7" height="4" fill="#000"/>
<rect x="87.2" y="193.4" width="3.6" height="12" fill="#000"/>
<rect x="82.3" y="201.2" width="3.7" height="4" fill="#000"/>
<rect x="92.0" y="201.2" width="3.7" height="4" fill="#000"/>
<rect x="628" y="258" width="420" height="5.9" fill="#000"/>
<rect x="653" y="258" width="209.5" height="9.3" fill="#000"/>
<path d="M243.9 206.9H290.2V645.7H582.0V206.9H628.9V999.8000000000001H582.8V744.4H290.0V999.8000000000001H243.9Z" fill="#bcbdc1"/>
<path clip-path="url(#cKL)" d="M245.1 195.2L288.1 152.2M245.1 212.2L288.1 169.2M245.1 229.2L288.1 186.2M245.1 246.2L288.1 203.2M245.1 263.2L288.1 220.2M245.1 280.2L288.1 237.2M245.1 297.2L288.1 254.2M245.1 314.2L288.1 271.2M245.1 331.2L288.1 288.2" stroke="#000" stroke-width="1.1" fill="none"/>
<path clip-path="url(#cKR)" d="M584.4 178.9L627.2 136.1M584.4 195.9L627.2 153.1M584.4 212.9L627.2 170.1M584.4 229.9L627.2 187.1M584.4 246.9L627.2 204.1M584.4 263.9L627.2 221.1M584.4 280.9L627.2 238.1M584.4 297.9L627.2 255.1M584.4 314.9L627.2 272.1M584.4 331.9L627.2 289.1" stroke="#000" stroke-width="1.1" fill="none"/>
<path clip-path="url(#cU)" d="M245.1 229.5L627.2 -152.6M245.1 252.1L627.2 -130.0M245.1 274.8L627.2 -107.3M245.1 297.4L627.2 -84.7M245.1 320.1L627.2 -62.0M245.1 342.8L627.2 -39.3M245.1 365.4L627.2 -16.7M245.1 388.1L627.2 6.0M245.1 410.8L627.2 28.7M245.1 433.4L627.2 51.3M245.1 456.1L627.2 74.0M245.1 478.8L627.2 96.7M245.1 501.4L627.2 119.3M245.1 524.1L627.2 142.0M245.1 546.8L627.2 164.7M245.1 569.4L627.2 187.3M245.1 592.1L627.2 210.0M245.1 614.8L627.2 232.7M245.1 637.4L627.2 255.3M245.1 660.1L627.2 278.0M245.1 682.8L627.2 300.6M245.1 705.4L627.2 323.3M245.1 728.1L627.2 346.0M245.1 750.7L627.2 368.6M245.1 773.4L627.2 391.3M245.1 796.1L627.2 414.0M245.1 818.7L627.2 436.6M245.1 841.4L627.2 459.3M245.1 864.1L627.2 482.0M245.1 886.7L627.2 504.6M245.1 909.4L627.2 527.3M245.1 932.1L627.2 550.0M245.1 954.7L627.2 572.6M245.1 977.4L627.2 595.3M245.1 1000.1L627.2 618.0M245.1 1022.7L627.2 640.6M245.1 1045.4L627.2 663.3M245.1 1068.1L627.2 686.0M245.1 1090.7L627.2 708.6M245.1 1113.4L627.2 731.3M245.1 1136.1L627.2 754.0M245.1 1158.7L627.2 776.6M245.1 1181.4L627.2 799.3M245.1 1204.0L627.2 821.9M245.1 1226.7L627.2 844.6M245.1 1249.4L627.2 867.3M245.1 1272.0L627.2 889.9M245.1 1294.7L627.2 912.6M245.1 1317.4L627.2 935.3M245.1 1340.0L627.2 957.9M245.1 1362.7L627.2 980.6M245.1 1385.4L627.2 1003.3M245.1 1408.0L627.2 1025.9" stroke="#000" stroke-width="1.1" fill="none"/>
<path clip-path="url(#cS)" d="M289.9 677.4L582.9 384.4M289.9 694.4L582.9 401.4M289.9 711.4L582.9 418.4M289.9 728.4L582.9 435.4M289.9 745.4L582.9 452.4M289.9 762.4L582.9 469.4M289.9 779.4L582.9 486.4M289.9 796.4L582.9 503.4M289.9 813.4L582.9 520.4M289.9 830.4L582.9 537.4M289.9 847.4L582.9 554.4M289.9 864.4L582.9 571.4M289.9 881.4L582.9 588.4M289.9 898.4L582.9 605.4M289.9 915.4L582.9 622.4M289.9 932.4L582.9 639.4M289.9 949.4L582.9 656.4M289.9 966.4L582.9 673.4M289.9 983.4L582.9 690.4M289.9 1000.4L582.9 707.4M289.9 1017.4L582.9 724.4M289.9 1034.4L582.9 741.4M289.9 1051.4L582.9 758.4" stroke="#000" stroke-width="1.1" fill="none"/>
<rect x="243.45" y="205.00" width="3.65" height="796.70" fill="#000"/><path d="M242.95 205.00V1001.70" stroke="#000" stroke-width="1.90" stroke-dasharray="6.3 1.7" stroke-dashoffset="-2.7" fill="none"/>
<rect x="286.10" y="205.00" width="4.55" height="444.60" fill="#000"/><path d="M291.05 205.00V649.60" stroke="#000" stroke-width="1.70" stroke-dasharray="6.5 1.5" stroke-dashoffset="-0.9" fill="none"/>
<rect x="286.70" y="689.00" width="3.75" height="312.70" fill="#000"/><path d="M290.95 689.00V1001.70" stroke="#000" stroke-width="1.90" stroke-dasharray="6.3 1.7" stroke-dashoffset="3.0" fill="none"/>
<rect x="625.20" y="205.00" width="4.15" height="796.70" fill="#000"/><path d="M629.85 205.00V1001.70" stroke="#000" stroke-width="1.90" stroke-dasharray="6.3 1.7" stroke-dashoffset="-1.6" fill="none"/>
<rect x="581.55" y="205.00" width="4.85" height="444.60" fill="#000"/><path d="M581.45 205.00V649.60" stroke="#000" stroke-width="1.10" stroke-dasharray="6.6 1.4" stroke-dashoffset="-2.9" fill="none"/>
<rect x="582.35" y="689.00" width="3.45" height="312.70" fill="#000"/><path d="M581.85 689.00V1001.70" stroke="#000" stroke-width="1.90" stroke-dasharray="6.3 1.7" stroke-dashoffset="3.0" fill="none"/>
<rect x="242.00" y="206.45" width="49.90" height="4.35" fill="#000"/><path d="M242.00 205.95H291.90" stroke="#000" stroke-width="1.90" stroke-dasharray="6.3 1.7" stroke-dashoffset="-1.0" fill="none"/>
<rect x="580.90" y="206.45" width="49.90" height="4.35" fill="#000"/><path d="M580.90 205.95H630.80" stroke="#000" stroke-width="1.90" stroke-dasharray="6.3 1.7" stroke-dashoffset="-0.4" fill="none"/>
<rect x="242.00" y="996.10" width="49.90" height="4.15" fill="#000"/><path d="M242.00 1000.75H291.90" stroke="#000" stroke-width="1.90" stroke-dasharray="6.3 1.7" stroke-dashoffset="0.0" fill="none"/>
<rect x="580.90" y="996.10" width="49.90" height="4.15" fill="#000"/><path d="M580.90 1000.75H630.80" stroke="#000" stroke-width="1.90" stroke-dasharray="6.3 1.7" stroke-dashoffset="0.0" fill="none"/>
<path d="M247.1 260.9H286.1M586.4 260.9H625.2" stroke="#000" stroke-width="2.1" fill="none"/>
<rect x="286.1" y="645.7" width="300.29999999999995" height="3.8999999999999773" fill="#000"/>
<rect x="286.1" y="689.0" width="300.29999999999995" height="3.7999999999999545" fill="#000"/>
<rect x="290.9" y="740.2" width="291.0" height="4.199999999999932" fill="#000"/>
<path d="M266.9 260.9V656.4Q266.9 670.9 281.4 670.9H436" stroke="#000" stroke-width="2.0" stroke-dasharray="11.6 2.4" fill="none"/>
<path d="M605.8 260.9V656.4Q605.8 670.9 591.3 670.9H436" stroke="#000" stroke-width="2.0" stroke-dasharray="11.6 2.4" fill="none"/>
<path d="M291 649.6V689.0M581.7 649.6V689.0" stroke="#000" stroke-width="1.8" stroke-dasharray="5.8 2.2" fill="none"/>
<rect x="322.5" y="590.6" width="18.8" height="55.60000000000002" fill="#bcbdc1" stroke="#000" stroke-width="1.5"/>
<path d="M292 590.7H322.5M292 593.9H322.5" stroke="#000" stroke-width="1.2" fill="none"/>
<rect x="506.9" y="582.4" width="19" height="63.80000000000007" fill="#bcbdc1" stroke="#000" stroke-width="1.7"/>
<rect x="560.6" y="632" width="19.6" height="14.200000000000045" fill="#bcbdc1"/>
<rect x="574.8" y="586" width="5.6" height="46" fill="#bcbdc1"/>
<path d="M560.6 632V645.7" stroke="#000" stroke-width="1.5" fill="none"/>
<rect x="526" y="585" width="49" height="47" fill="#fff" stroke="#000" stroke-width="1.8"/>
<rect x="526" y="582" width="53.5" height="4" fill="#555"/>
<path d="M526 582.3H579.5" stroke="#000" stroke-width="1.2" fill="none"/>
<rect x="526.4" y="469.2" width="45.1" height="113" fill="none" stroke="#111" stroke-width="1"/>
<path d="M526.6 469.4L570.4 583" stroke="#000" stroke-width="1.1" fill="none"/>
<path d="M527.6 582.5L571.4 469.4" stroke="#000" stroke-width="2.2" fill="none"/>
<path d="M293.9 206.0V645.7" stroke="#000" stroke-width="1.5" stroke-dasharray="6.4 1.6" stroke-dashoffset="0.1" fill="none"/>
<path d="M579.0 206.0V645.7" stroke="#000" stroke-width="2" stroke-dasharray="6.4 1.6" stroke-dashoffset="-1.9" fill="none"/>
<path d="M358.6 616.6L489.0 611.9L489.4 623.2L358.9 627.3Z" fill="#fff" stroke="#000" stroke-width="1.5"/>
<path d="M384.4 603.6L385.9 615.6" stroke="#000" stroke-width="2.8" fill="none"/>
<path d="M382.4 604.0H385.4" stroke="#000" stroke-width="1.4" fill="none"/>
<path d="M380.7 611.6L381.0 622.5M390.8 611.3000000000001L391.1 622.2" stroke="#000" stroke-width="3.8" fill="none"/>
<path d="M464.3 600.6L465.8 612.5" stroke="#000" stroke-width="2.8" fill="none"/>
<path d="M462.3 601.0H465.3" stroke="#000" stroke-width="1.4" fill="none"/>
<path d="M460.6 608.8L460.90000000000003 619.6M470.5 608.5L470.8 619.3000000000001" stroke="#000" stroke-width="3.8" fill="none"/>
<path d="M328.1 353.3L326.6 305.2L343.8 287.6L479 282.3L497.6 300.1L499.4 347.2" stroke="#000" stroke-width="1.85" stroke-dasharray="3.7 2.9" fill="none" stroke-linejoin="round"/>
<path d="M317.2 354.6L510.2 347.0" stroke="#000" stroke-width="1.85" stroke-dasharray="3.7 2.9" fill="none" stroke-linejoin="round"/>
<path d="M510.2 347.2L515 375L518.4 396.1L519.3 422.6L519.7 441.8L521.3 478L522.6 520L523.6 549.5" stroke="#000" stroke-width="1.85" stroke-dasharray="3.7 2.9" fill="none" stroke-linejoin="round"/>
<path d="M519.7 441.8H532.2L534 480L536.6 549.5" stroke="#000" stroke-width="1.85" stroke-dasharray="3.7 2.9" fill="none" stroke-linejoin="round"/>
<path d="M537.7 550.2H507.4V584.7H503.4L485.8 600.3L360 604.4L344.8 591.0" stroke="#000" stroke-width="1.85" stroke-dasharray="3.7 2.9" fill="none" stroke-linejoin="round"/>
<path d="M317.2 354.6L313.6 385L312.3 404L313.2 440L314.4 449.7L317.8 557.4" stroke="#000" stroke-width="1.85" stroke-dasharray="3.7 2.9" fill="none" stroke-linejoin="round"/>
<path d="M314.4 449.7H301.2L305.3 557.4" stroke="#000" stroke-width="1.85" stroke-dasharray="3.7 2.9" fill="none" stroke-linejoin="round"/>
<path d="M305.3 557.4H334.7V589.4" stroke="#000" stroke-width="1.85" stroke-dasharray="3.7 2.9" fill="none" stroke-linejoin="round"/>
<path d="M411.6 271L423.95 631.5L424.1 638.5" stroke="#000" stroke-width="1.1" stroke-dasharray="24 23.6 0.9 23.5" fill="none"/>
<path d="M47.2 130V227" stroke="#000" stroke-width="1.1" stroke-dasharray="24 23.6 0.9 23.5" fill="none"/>
<rect x="681.3" y="78" width="114.4" height="135.4" stroke="#262626" stroke-width="1.1" fill="none"/>
<path d="M684.6 213.4V216.3M792.4 213.4V216.3" stroke="#262626" stroke-width="1.1" fill="none"/>
<rect x="681.3" y="216.3" width="115.2" height="19.3" stroke="#262626" stroke-width="1.1" fill="none"/>
<path d="M686.6 235.6V258M698.8 235.6V258M779.7 235.6V258M791.5 235.6V258" stroke="#262626" stroke-width="1.1" fill="none"/>
<circle cx="266.8" cy="235.3" r="61.7" stroke-dasharray="8.6 7.55" stroke="#000" stroke-width="1.95" fill="none"/>
<circle cx="607.3" cy="235.3" r="61.6" stroke-dasharray="8.6 7.55" stroke="#000" stroke-width="1.95" fill="none"/>
<circle cx="548" cy="645" r="89.5" stroke-dasharray="8.6 7.55" stroke-dashoffset="-5" stroke="#000" stroke-width="1.95" fill="none"/>
<path d="M604.2 114H365L297.9 181.4" stroke="#000" stroke-width="2" fill="none" stroke-linejoin="miter"/>
<path d="M297.6 181.2L304.2 185.7" stroke="#000" stroke-width="1.6" fill="none"/>
<path d="M943.4 114H705.2L638.2 182.5" stroke="#000" stroke-width="2" fill="none" stroke-linejoin="miter"/>
<path d="M637.9 182.3L644.4 186.8" stroke="#000" stroke-width="1.6" fill="none"/>
<path d="M946.9 184H802.8L782.5 205.1" stroke="#000" stroke-width="2" fill="none" stroke-linejoin="miter"/>
<circle cx="782.5" cy="205.1" r="3.6" fill="#000"/>
<path d="M751.8 335.7H650.6L594.3 392.4" stroke="#000" stroke-width="2" fill="none" stroke-linejoin="miter"/>
<circle cx="594.3" cy="392.4" r="3.6" fill="#000"/>
<path d="M1048 446H634.6L578.7 502.3" stroke="#000" stroke-width="2" fill="none" stroke-linejoin="miter"/>
<circle cx="578.7" cy="502.3" r="3.6" fill="#000"/>
<path d="M1048 514.2H637.6L581.1 570.4" stroke="#000" stroke-width="2" fill="none" stroke-linejoin="miter"/>
<circle cx="581.1" cy="570.4" r="3.6" fill="#000"/>
<path d="M548.9 793.4H419.1L295.7 669.5" stroke="#000" stroke-width="2" fill="none" stroke-linejoin="miter"/>
<circle cx="295.7" cy="669.6" r="3.3" fill="#000"/>
<path d="M883 780.8H672L606.3 714.3" stroke="#000" stroke-width="2" fill="none" stroke-linejoin="miter"/>
<path d="M606.6 714.0L601.0 719.2" stroke="#000" stroke-width="1.6" fill="none"/>
<g opacity="0.999">
<text x="370.3" y="110.5" textLength="235.2" lengthAdjust="spacingAndGlyphs" >dilatatievoeg koppelbalk</text>
<text x="707.0" y="110.5" textLength="235.8" lengthAdjust="spacingAndGlyphs" >dilatatievoeg koppelbalk</text>
<text x="805.3" y="177.6" textLength="140.2" lengthAdjust="spacingAndGlyphs" >dienstvoertuig</text>
<text x="654.8" y="330.9" textLength="94.7" lengthAdjust="spacingAndGlyphs" >diepwand</text>
<text x="908.4" y="339.2" textLength="59.9" lengthAdjust="spacingAndGlyphs" >G.W.S.</text>
<text x="638.8" y="440.0" textLength="291.8" lengthAdjust="spacingAndGlyphs" >ruimtereservering voor 50mm</text>
<text x="638.8" y="470.0" textLength="396.0" lengthAdjust="spacingAndGlyphs" xml:space="preserve">geluidsbekleding  (10 m in gesloten deel)</text>
<text x="640.0" y="508.2" textLength="408.5" lengthAdjust="spacingAndGlyphs" >tolerantie diepwand 100mm (binnenzijde)</text>
<text x="426.8" y="785.8" textLength="118.8" lengthAdjust="spacingAndGlyphs" >voegenband</text>
<text x="680.2" y="774.0" textLength="203.3" lengthAdjust="spacingAndGlyphs" >dilatatievoeg in vloer</text>
<text transform="translate(44.0 198.6) rotate(-90)" x="0" y="0" textLength="75.6" lengthAdjust="spacingAndGlyphs">spooras</text>
<text transform="translate(412.3 456.7) rotate(-90)" x="0" y="0" textLength="75.2" lengthAdjust="spacingAndGlyphs">spooras</text>
</g>
<!--MORE-->
</svg></body></html>
